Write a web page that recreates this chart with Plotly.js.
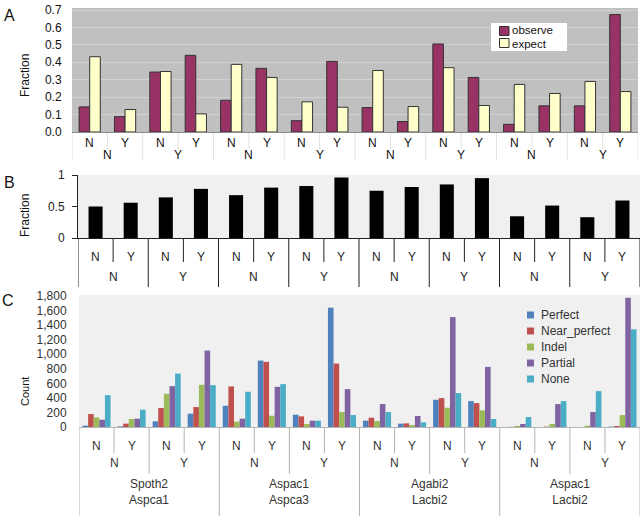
<!DOCTYPE html>
<html>
<head>
<meta charset="utf-8">
<script src="https://cdn.plot.ly/plotly-3.0.1.min.js"></script>
<style>
  body { margin: 0; background: #fff; }
  #chart { width: 640px; height: 519px; }
</style>
</head>
<body>
<div id="chart"></div>
<script>
// three levels of categories, 16 bars in every panel
var pairs = ['Spoth2<br>Aspca1', 'Aspac1<br>Aspca3', 'Agabi2<br>Lacbi2', 'Aspac1<br>Lacbi2'];
var outerNY = ['N', 'Y'];
var innerNY = ['N', 'Y'];

// panel A
var observe = [0.144, 0.088, 0.344, 0.44, 0.182, 0.365, 0.065, 0.405, 0.14, 0.06, 0.505, 0.313, 0.044, 0.15, 0.15, 0.674];
var expect = [0.432, 0.129, 0.347, 0.104, 0.388, 0.313, 0.173, 0.142, 0.353, 0.146, 0.369, 0.152, 0.273, 0.221, 0.29, 0.232];

// panel B
var fraction = [0.50, 0.56, 0.645, 0.78, 0.68, 0.80, 0.825, 0.96, 0.75, 0.81, 0.85, 0.95, 0.345, 0.515, 0.33, 0.595];

// panel C
var seriesNames = ['Perfect', 'Near_perfect', 'Indel', 'Partial', 'None'];
var perfect = [18, 9, 78, 183, 292, 913, 169, 1640, 87, 46, 374, 356, 0, 0, 0, 5];
var nearPerfect = [178, 46, 260, 274, 557, 895, 146, 872, 128, 50, 397, 329, 2, 5, 0, 14];
var indel = [132, 110, 457, 580, 73, 155, 41, 205, 82, 27, 265, 228, 14, 41, 18, 164];
var partial = [100, 114, 562, 1050, 114, 552, 87, 520, 315, 151, 1511, 826, 41, 315, 205, 1776];
var none = [438, 237, 735, 575, 484, 589, 87, 164, 205, 64, 466, 110, 137, 356, 493, 1342];

var W = 640, H = 519;
function px(y) { return 1 - y / H; }   // page pixel -> paper y
var font = 'Liberation Sans, Arial, Helvetica, sans-serif';

var cats = [], innerLab = [], outerLab = [];
pairs.forEach(function (p) {
  outerNY.forEach(function (o) {
    innerNY.forEach(function (n) {
      cats.push(p + '|' + o + '|' + n);
      innerLab.push(n);
      outerLab.push(o);
    });
  });
});

var data = [
  {x: cats, y: observe, type: 'bar', name: 'observe', xaxis: 'x', yaxis: 'y',
   offset: -0.3, width: 0.3, marker: {color: '#993366', line: {color: '#333', width: 1}}},
  {x: cats, y: expect, type: 'bar', name: 'expect', xaxis: 'x', yaxis: 'y',
   offset: 0, width: 0.3, marker: {color: '#ffffcc', line: {color: '#333', width: 1}}},
  {x: cats, y: fraction, type: 'bar', name: 'fraction', xaxis: 'x2', yaxis: 'y2',
   offset: -0.2, width: 0.4, marker: {color: '#000'}}
];

var cColors = ['#4f81bd', '#c0504d', '#9bbb59', '#8064a2', '#4bacc6'];
var cValues = [perfect, nearPerfect, indel, partial, none];
cValues.forEach(function (vals, k) {
  data.push({x: cats, y: vals, type: 'bar', name: seriesNames[k], xaxis: 'x3', yaxis: 'y3',
    offset: -0.4 + k * 0.16, width: 0.16, marker: {color: cColors[k]}});
});

var shapes = [];
var annotations = [];

// plot backgrounds
[['x', 'y', '#c0c0c0'], ['x2', 'y2', '#f0f0f0'], ['x3', 'y3', '#f0f0f0']].forEach(function (s) {
  shapes.push({type: 'rect', layer: 'below', xref: s[0] + ' domain', yref: s[1] + ' domain',
    x0: 0, x1: 1, y0: 0, y1: 1, fillcolor: s[2], line: {width: 0}});
});

function divider(xref, i, yTop, yBot, color) {
  shapes.push({type: 'line', xref: xref, yref: 'paper', x0: i - 0.5, x1: i - 0.5,
    y0: px(yTop), y1: px(yBot), line: {color: color, width: 1}});
}
function label(xref, x, y, text, size, color) {
  annotations.push({xref: xref, yref: 'paper', x: x, y: px(y), text: text, showarrow: false,
    xanchor: 'center', yanchor: 'middle', font: {family: font, size: size, color: color}});
}

// x label rows and dividers for each panel
for (var i = 0; i <= cats.length; i++) {
  var inner = (i % 2 === 1);
  var pairEdge = (i % 4 === 0);
  if (inner) {
    divider('x', i, 133, 149, '#e2e2e2');
    divider('x2', i, 238, 262, '#222');
    divider('x3', i, 427, 453, '#b4b4b4');
  } else {
    divider('x', i, 133, 160, '#e2e2e2');
    divider('x2', i, 238, 287, '#222');
    divider('x3', i, 427, pairEdge ? 516 : 474, '#b4b4b4');
  }
}
cats.forEach(function (c, i) {
  label('x', i, 143, innerLab[i], 12, '#111');
  label('x2', i, 257, innerLab[i], 12, '#222');
  label('x3', i, 446, innerLab[i], 12, '#333');
  if (i % 2 === 0) {
    label('x', i + 0.5, 155.5, outerLab[i], 12, '#111');
    label('x2', i + 0.5, 277, outerLab[i], 12, '#222');
    label('x3', i + 0.5, 463, outerLab[i], 12, '#333');
  }
  if (i % 4 === 0) {
    label('x3', i + 1.5, 491.5, pairs[i / 4], 12, '#333');
  }
});

// panel letters and y titles
function paperText(x, y, text, size, angle) {
  annotations.push({xref: 'paper', yref: 'paper', x: x / W, y: px(y), text: text, showarrow: false,
    xanchor: 'center', yanchor: 'middle', textangle: angle || 0,
    font: {family: font, size: size, color: '#111'}});
}
paperText(9, 15, 'A', 16);
paperText(9, 182, 'B', 16);
paperText(8, 300, 'C', 16);
paperText(25, 76, 'Fraction', 12, -90);
paperText(25, 216, 'Fraction', 12, -90);
paperText(25, 392, 'Count', 11, -90);

// legend for panel A
shapes.push({type: 'rect', xref: 'paper', yref: 'paper', x0: 491 / W, x1: 567 / W,
  y0: px(51), y1: px(23), fillcolor: '#fff', line: {width: 0}});
[['observe', '#993366', 31, 30], ['expect', '#ffffcc', 43, 44]].forEach(function (it) {
  shapes.push({type: 'rect', xref: 'paper', yref: 'paper', x0: 499.5 / W, x1: 509 / W,
    y0: px(it[2] + 4.5), y1: px(it[2] - 4.5), fillcolor: it[1], line: {color: '#333', width: 1}});
  annotations.push({xref: 'paper', yref: 'paper', x: 511 / W, y: px(it[3]), text: it[0],
    showarrow: false, xanchor: 'left', yanchor: 'middle', borderpad: 0,
    font: {family: font, size: 11.5, color: '#111'}});
});

// legend for panel C
seriesNames.forEach(function (n, k) {
  var yc = 315 + k * 16;
  shapes.push({type: 'rect', xref: 'paper', yref: 'paper', x0: 527 / W, x1: 534 / W,
    y0: px(yc + 3.5), y1: px(yc - 3.5), fillcolor: cColors[k], line: {width: 0}});
  annotations.push({xref: 'paper', yref: 'paper', x: 540 / W, y: px(yc), text: n,
    showarrow: false, xanchor: 'left', yanchor: 'middle', borderpad: 0,
    font: {family: font, size: 12, color: '#333'}});
});

var catAxis = {type: 'category', showticklabels: false, ticks: '', showgrid: false,
  zeroline: false, range: [-0.5, 15.5], showline: true};

var layout = {
  width: W, height: H,
  margin: {l: 0, r: 0, t: 0, b: 0},
  paper_bgcolor: '#fff',
  plot_bgcolor: 'rgba(0,0,0,0)',
  barmode: 'overlay',
  showlegend: false,
  font: {family: font, size: 12, color: '#222'},
  xaxis: Object.assign({}, catAxis, {domain: [72 / W, 638 / W], anchor: 'y', linecolor: '#8a8a8a'}),
  yaxis: {domain: [px(132), px(8)], anchor: 'x', range: [0, 0.7115], dtick: 0.1, tickformat: '.1f',
    showgrid: true, gridcolor: '#d2d2d2', zeroline: false, ticks: 'outside', ticklen: 7,
    tickcolor: 'rgba(0,0,0,0)', tickfont: {size: 12, color: '#111'}},
  xaxis2: Object.assign({}, catAxis, {domain: [78 / W, 1], anchor: 'y2', linecolor: '#222'}),
  yaxis2: {domain: [px(238), px(175)], anchor: 'x2', range: [0, 1], tickvals: [0, 0.5, 1],
    ticktext: ['0', '0.5', '1'], showgrid: false, zeroline: false, showline: true, linecolor: '#222',
    ticks: 'outside', ticklen: 5, tickcolor: '#222', ticklabelstandoff: 5,
    tickfont: {size: 12, color: '#222'}},
  xaxis3: Object.assign({}, catAxis, {domain: [79 / W, 1], anchor: 'y3', linecolor: '#b4b4b4'}),
  yaxis3: {domain: [px(427), px(295)], anchor: 'x3', range: [0, 1814], dtick: 200, tickformat: ',',
    showgrid: false, zeroline: false, ticks: 'outside', ticklen: 9, tickcolor: 'rgba(0,0,0,0)',
    tickfont: {size: 12, color: '#333'}},
  shapes: shapes,
  annotations: annotations
};

Plotly.newPlot('chart', data, layout, {staticPlot: true});
</script>
</body>
</html>
